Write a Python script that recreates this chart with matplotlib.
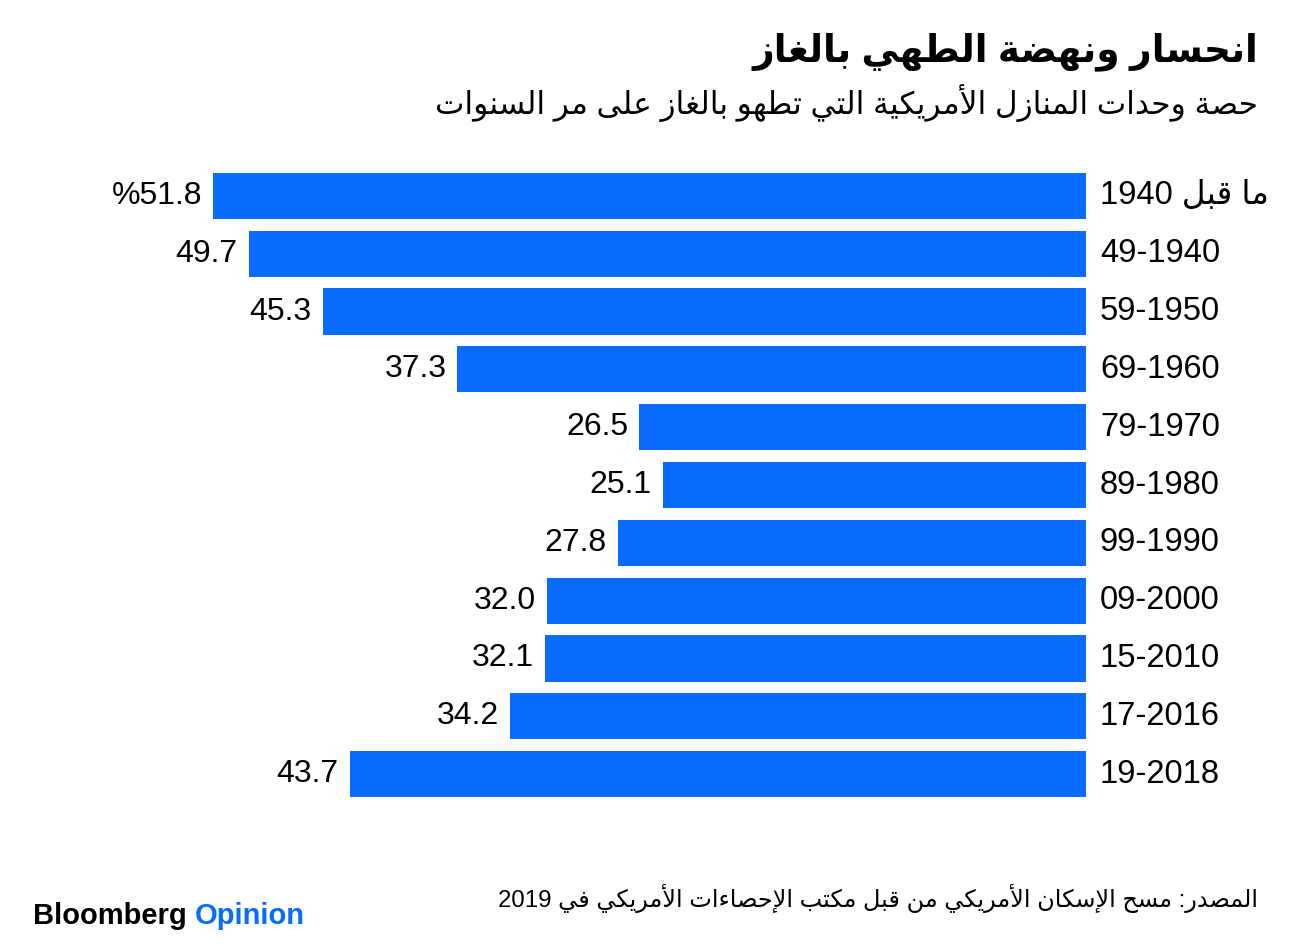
import matplotlib
matplotlib.use('Agg')
import matplotlib.pyplot as plt
import numpy as np

plt.rcParams['font.family'] = ['Liberation Sans', 'DejaVu Sans']

periods = ['ما قبل 1940', '49-1940', '59-1950', '69-1960', '79-1970', '89-1980',
           '99-1990', '09-2000', '15-2010', '17-2016', '19-2018']
gas_share = [51.8, 49.7, 45.3, 37.3, 26.5, 25.1, 27.8, 32.0, 32.1, 34.2, 43.7]

title = 'انحسار ونهضة الطهي بالغاز'
subtitle = 'حصة وحدات المنازل الأمريكية التي تطهو بالغاز على مر السنوات'
source = 'المصدر: مسح الإسكان الأمريكي من قبل مكتب الإحصاءات الأمريكي في 2019'

BLUE = '#0A6CFF'


# --- minimal arabic shaping + right-to-left ordering (no reshaper libs available) ---
DUAL = {0x626: 0xFE89, 0x628: 0xFE8F, 0x62A: 0xFE95, 0x62B: 0xFE99, 0x62C: 0xFE9D,
        0x62D: 0xFEA1, 0x62E: 0xFEA5, 0x633: 0xFEB1, 0x634: 0xFEB5, 0x635: 0xFEB9,
        0x636: 0xFEBD, 0x637: 0xFEC1, 0x638: 0xFEC5, 0x639: 0xFEC9, 0x63A: 0xFECD,
        0x641: 0xFED1, 0x642: 0xFED5, 0x643: 0xFED9, 0x644: 0xFEDD, 0x645: 0xFEE1,
        0x646: 0xFEE5, 0x647: 0xFEE9, 0x64A: 0xFEF1}
RIGHT = {0x622: 0xFE81, 0x623: 0xFE83, 0x624: 0xFE85, 0x625: 0xFE87, 0x627: 0xFE8D,
         0x629: 0xFE93, 0x62F: 0xFEA9, 0x630: 0xFEAB, 0x631: 0xFEAD, 0x632: 0xFEAF,
         0x648: 0xFEED, 0x649: 0xFEEF}
NONE = {0x621: 0xFE80}
LAMALEF = {0x622: 0xFEF5, 0x623: 0xFEF7, 0x625: 0xFEF9, 0x627: 0xFEFB}


def is_ar(c):
    return c is not None and (ord(c) in DUAL or ord(c) in RIGHT or ord(c) in NONE)


def shape(s):
    out = []
    i = 0
    n = len(s)
    while i < n:
        c = s[i]
        o = ord(c)
        prev = s[i - 1] if i > 0 else None
        nxt = s[i + 1] if i + 1 < n else None
        jp = prev is not None and ord(prev) in DUAL and i > 0
        # a lam-alef ligature before doesn't join forward
        if jp and out and 0xFEF5 <= ord(out[-1]) <= 0xFEFC:
            jp = False
        if o == 0x644 and nxt is not None and ord(nxt) in LAMALEF:
            base = LAMALEF[ord(nxt)]
            out.append(chr(base + (1 if jp else 0)))
            i += 2
            continue
        if o in DUAL:
            jn = is_ar(nxt)
            base = DUAL[o]
            if jp and jn:
                out.append(chr(base + 3))
            elif jp:
                out.append(chr(base + 1))
            elif jn:
                out.append(chr(base + 2))
            else:
                out.append(chr(base))
        elif o in RIGHT:
            out.append(chr(RIGHT[o] + (1 if jp else 0)))
        elif o in NONE:
            out.append(chr(NONE[o]))
        else:
            out.append(c)
        i += 1
    return ''.join(out)


def rtl(s):
    s = shape(s)
    runs = []
    cur = ''
    cur_num = None
    for c in s:
        num = c.isdigit() or (c in '.-' and cur_num)
        if cur_num is None or num == cur_num:
            cur += c
        else:
            runs.append((cur, cur_num))
            cur = c
        cur_num = num
    runs.append((cur, cur_num))
    vis = []
    for txt, num in reversed(runs):
        vis.append(txt if num else txt[::-1])
    return ''.join(vis)


fig = plt.figure(figsize=(12.97, 9.47), dpi=100)
W, H = 1297, 947
ax = fig.add_axes([100 / W, 1 - 803 / H, 986 / W, 636 / H])

y = np.arange(len(periods))
bars = ax.barh(y, gas_share, height=0.8, color=BLUE)
ax.set_xlim(986 / 16.85, 0)
ax.set_ylim(len(periods) - 0.5, -0.5)
ax.axis('off')

for i, (p, v) in enumerate(zip(periods, gas_share)):
    ax.annotate(rtl(p), xy=(0, i), xytext=(10, 0), textcoords='offset points',
                ha='left', va='center', fontsize=23.5, color='#000000')
    lab = f'%{v:.1f}' if i == 0 else f'{v:.1f}'
    ax.annotate(lab, xy=(v, i), xytext=(-8, 0), textcoords='offset points',
                ha='right', va='center', fontsize=23, color='#000000')

fig.text(1258 / W, 1 - 52 / H, rtl(title), ha='right', va='center',
         fontsize=27, fontweight='bold', color='#000000')
fig.text(1258 / W, 1 - 103 / H, rtl(subtitle), ha='right', va='center',
         fontsize=22.5, color='#000000')
fig.text(1258 / W, 1 - 898 / H, rtl(source), ha='right', va='center',
         fontsize=17.3, color='#000000')

t1 = fig.text(33 / W, 1 - 916 / H, 'Bloomberg', ha='left', va='center',
              fontsize=21, fontweight='bold', color='#000000')
fig.canvas.draw()
bb = t1.get_window_extent()
fig.text((bb.x1 + 8) / W, 1 - 916 / H, 'Opinion', ha='left', va='center',
         fontsize=21, fontweight='bold', color=BLUE)

fig.savefig('out.png', dpi=100)
